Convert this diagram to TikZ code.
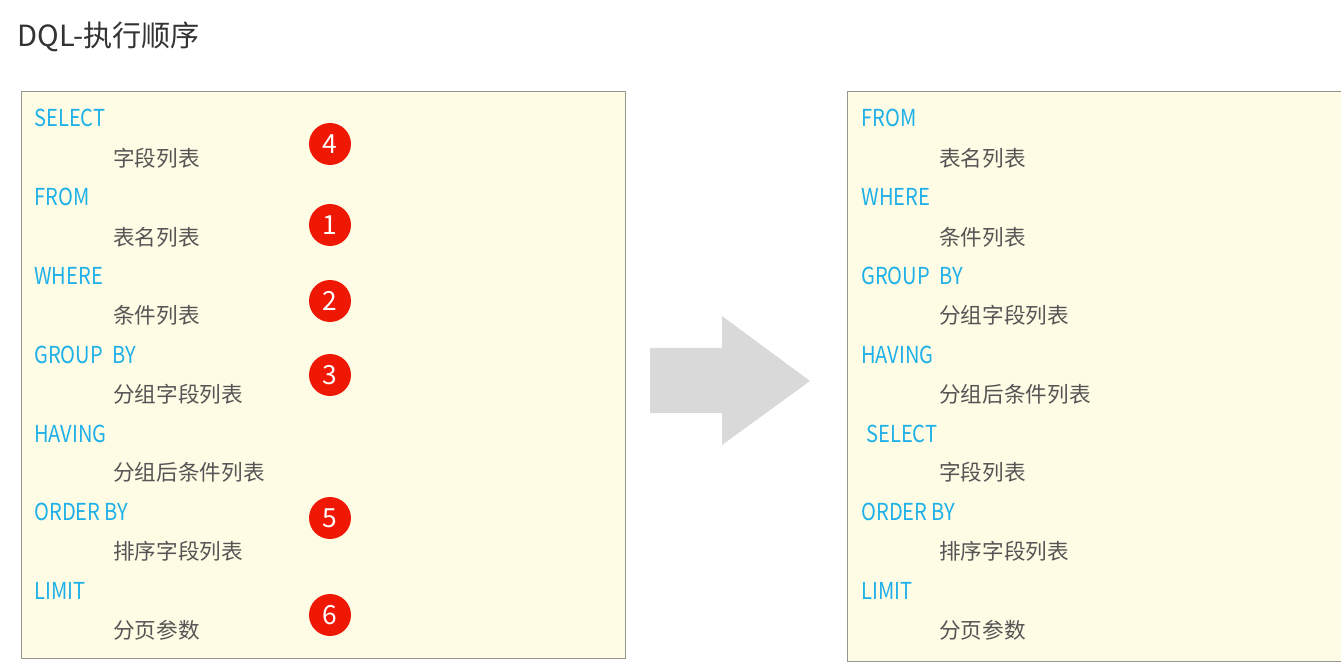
\documentclass[tikz,border=0pt]{standalone}
\usepackage{fontspec}
\setmainfont{Noto Sans CJK SC}
\newfontfamily\kwfont[FakeStretch=0.86]{Noto Sans CJK SC}
\definecolor{kwblue}{RGB}{30,176,232}
\definecolor{itemgray}{RGB}{85,85,85}
\definecolor{titlegray}{RGB}{51,51,51}
\definecolor{boxfill}{RGB}{255,252,229}
\definecolor{boxline}{RGB}{150,150,140}
\definecolor{badgered}{RGB}{238,24,4}
\definecolor{arrowgray}{RGB}{217,217,217}
\tikzset{
  kw/.style={anchor=west,inner sep=0pt,text=kwblue,font=\kwfont\fontsize{13.3}{16}\selectfont},
  item/.style={anchor=west,inner sep=0pt,text=itemgray,font=\fontsize{12.3}{15}\selectfont},
  badge/.style={circle,fill=badgered,text=white,minimum size=0.84cm,inner sep=0pt,font=\fontsize{15}{18}\selectfont}
}

\begin{document}
\begin{tikzpicture}[x=0.02cm,y=-0.02cm]
      \useasboundingbox (0,0) rectangle (1341,671);
      % title
      \node[anchor=west,inner sep=0pt,text=titlegray,font=\fontsize{16.6}{20}\selectfont] (title) at (17,37) {DQL-执行顺序};
      % boxes
      \node[draw=boxline,fill=boxfill,minimum width=12.08cm,minimum height=11.34cm,inner sep=0pt] (left) at (323,374.5) {};
      \fill[boxfill] (847,91) rectangle (1341,661);
      \draw[boxline] (1341,91) -- (847,91) -- (847,661) -- (1341,661);
      % left list
      \node[kw] (l1) at (34,118) {SELECT};
      \node[item] (l1a) at (113,158) {字段列表};
      \node[kw] (l2) at (34,197) {FROM};
      \node[item] (l2a) at (113,237) {表名列表};
      \node[kw] (l3) at (34,276) {WHERE};
      \node[item] (l3a) at (113,315) {条件列表};
      \node[kw] (l4) at (34,355) {GROUP\ \ BY};
      \node[item] (l4a) at (113,394) {分组字段列表};
      \node[kw] (l5) at (34,434) {HAVING};
      \node[item] (l5a) at (113,472) {分组后条件列表};
      \node[kw] (l6) at (34,512) {ORDER BY};
      \node[item] (l6a) at (113,551) {排序字段列表};
      \node[kw] (l7) at (34,591) {LIMIT};
      \node[item] (l7a) at (113,630) {分页参数};
      % step numbers
      \node[badge] (n4) at (330,144) {4};
      \node[badge] (n1) at (330,225) {1};
      \node[badge] (n2) at (330,301) {2};
      \node[badge] (n3) at (330,375) {3};
      \node[badge] (n5) at (330,518) {5};
      \node[badge] (n6) at (330,615) {6};
      % big arrow
      \fill[arrowgray] (650,348) -- (722,348) -- (722,316) -- (810,381) -- (722,445) -- (722,413) -- (650,413) -- cycle;
      % right list
      \node[kw] (r1) at (861,118) {FROM};
      \node[item] (r1a) at (939,158) {表名列表};
      \node[kw] (r2) at (861,197) {WHERE};
      \node[item] (r2a) at (939,237) {条件列表};
      \node[kw] (r3) at (861,276) {GROUP\ \ BY};
      \node[item] (r3a) at (939,315) {分组字段列表};
      \node[kw] (r4) at (861,355) {HAVING};
      \node[item] (r4a) at (939,394) {分组后条件列表};
      \node[kw] (r5) at (866,434) {SELECT};
      \node[item] (r5a) at (939,472) {字段列表};
      \node[kw] (r6) at (861,512) {ORDER BY};
      \node[item] (r6a) at (939,551) {排序字段列表};
      \node[kw] (r7) at (861,591) {LIMIT};
      \node[item] (r7a) at (939,630) {分页参数};
    \end{tikzpicture}
\end{document}
